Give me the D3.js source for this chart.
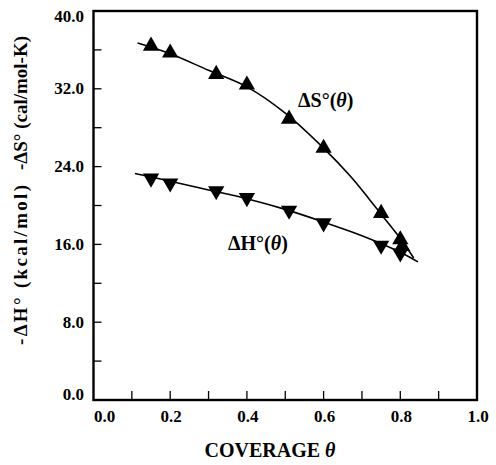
<!DOCTYPE html>
<html><head><meta charset="utf-8">
<script src="https://cdn.jsdelivr.net/npm/d3@7"></script>
<style>body{margin:0;background:#fff}svg{display:block}text{font-family:"Liberation Serif","Times New Roman",serif;font-weight:bold;fill:#000}</style>
</head><body><svg id="c" width="496" height="465"></svg>
<script>
// Data
const xTicks = [0, 0.2, 0.4, 0.6, 0.8, 1.0];
const xMinorTicks = [0.1, 0.3, 0.5, 0.7, 0.9];
const yTicks = [0, 8, 16, 24, 32, 40];
const yMinorTicks = [4, 12, 20, 28, 36];
const dSTheta = [0.15, 0.20, 0.32, 0.40, 0.51, 0.60, 0.75, 0.80, 0.805];
const dSValue = [36.4, 35.7, 33.5, 32.4, 28.9, 25.9, 19.2, 16.5, 15.8];
const dHTheta = [0.15, 0.20, 0.32, 0.40, 0.51, 0.60, 0.75, 0.80];
const dHValue = [22.8, 22.3, 21.5, 20.8, 19.5, 18.2, 15.9, 15.1];
const dSFitTheta = [0.115, 0.2, 0.3, 0.4, 0.5, 0.6, 0.67, 0.72, 0.75, 0.80, 0.835];
const dSFitValue = [36.7, 35.6, 33.9, 32.2, 29.5, 25.9, 23.0, 20.6, 19.1, 16.6, 14.6];
const dHFitTheta = [0.108, 0.2, 0.3, 0.4, 0.5, 0.6, 0.7, 0.8, 0.846];
const dHFitValue = [23.3, 22.5, 21.6, 20.7, 19.6, 18.3, 16.9, 15.2, 14.2];

const svg = d3.select("#c");
const x = d3.scaleLinear().domain([0, 1]).range([93.5, 477]);
const y = d3.scaleLinear().domain([0, 40]).range([400, 11]);

// frame
svg.append("rect").attr("x", x(0)).attr("y", y(40)).attr("width", x(1) - x(0)).attr("height", y(0) - y(40))
  .attr("fill", "none").attr("stroke", "#000").attr("stroke-width", 2.4);

// x ticks (inward)
const xAll = xTicks.concat(xMinorTicks).filter(d => d > 0 && d < 1);
svg.selectAll(".xt").data(xAll).enter().append("line")
  .attr("x1", d => x(d)).attr("x2", d => x(d)).attr("y1", y(0)).attr("y2", y(0) - 9)
  .attr("stroke", "#000").attr("stroke-width", 1.3);
svg.selectAll(".xl").data(xTicks).enter().append("text")
  .attr("x", d => x(d) + (d === 0 ? 11 : 1)).attr("y", 422)
  .attr("text-anchor", "middle").attr("font-size", 17)
  .text(d => d3.format(".1f")(d));

// y ticks
const yAll = yTicks.concat(yMinorTicks).filter(d => d > 0 && d < 40);
svg.selectAll(".yt").data(yAll).enter().append("line")
  .attr("x1", x(0)).attr("x2", x(0) + 8).attr("y1", d => y(d)).attr("y2", d => y(d))
  .attr("stroke", "#000").attr("stroke-width", 1.3);
svg.selectAll(".yl").data(yTicks).enter().append("text")
  .attr("x", 84).attr("y", d => y(d) + 5.5 + (d === 40 ? 5 : 0) + (d === 0 ? -6 : 0))
  .attr("text-anchor", "end").attr("font-size", 17)
  .text(d => d3.format(".1f")(d));

// axis titles
svg.append("text").attr("x", 270).attr("y", 457).attr("text-anchor", "middle").attr("font-size", 20)
  .html('COVERAGE <tspan font-style="italic">θ</tspan>');
svg.append("text").attr("transform", "translate(27,103) rotate(-90)").attr("text-anchor", "middle")
  .attr("font-size", 19).attr("textLength", 134).attr("lengthAdjust", "spacing").text("-ΔS° (cal/mol-K)");
svg.append("text").attr("transform", "translate(27,265) rotate(-90)").attr("text-anchor", "middle")
  .attr("font-size", 19).attr("textLength", 160).attr("lengthAdjust", "spacing").text("-ΔH° (kcal/mol)");

// fit curves
const line = d3.line().x(d => x(d[0])).y(d => y(d[1])).curve(d3.curveCatmullRom);
svg.append("path").datum(d3.zip(dSFitTheta, dSFitValue)).attr("d", line)
  .attr("fill", "none").attr("stroke", "#000").attr("stroke-width", 1.6);
svg.append("path").datum(d3.zip(dHFitTheta, dHFitValue)).attr("d", line)
  .attr("fill", "none").attr("stroke", "#000").attr("stroke-width", 1.6);

// markers
const tri = d3.symbol().type(d3.symbolTriangle).size(115);
svg.selectAll(".ds").data(d3.zip(dSTheta, dSValue)).enter().append("path")
  .attr("d", tri).attr("transform", d => `translate(${x(d[0])},${y(d[1])})`).attr("fill", "#000");
svg.selectAll(".dh").data(d3.zip(dHTheta, dHValue)).enter().append("path")
  .attr("d", tri).attr("transform", d => `translate(${x(d[0])},${y(d[1])}) rotate(180)`).attr("fill", "#000");

// curve labels
svg.append("text").attr("x", 298).attr("y", 107).attr("font-size", 20)
  .html('ΔS°(<tspan font-style="italic">θ</tspan>)');
svg.append("text").attr("x", 228).attr("y", 250).attr("font-size", 20)
  .html('ΔH°(<tspan font-style="italic">θ</tspan>)');
</script></body></html>
